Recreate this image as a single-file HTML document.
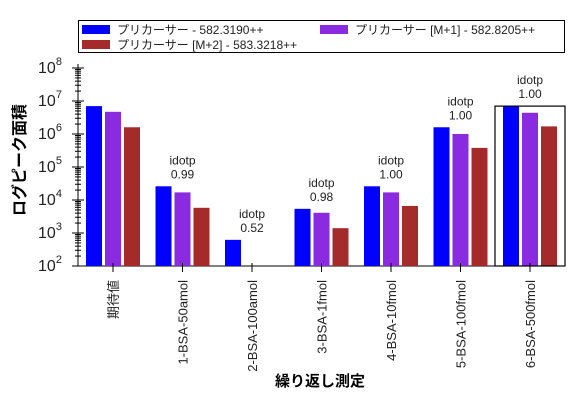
<!DOCTYPE html>
<html><head><meta charset="utf-8"><style>
body{margin:0;background:#fff}
svg{font-family:"Liberation Sans","Noto Sans CJK JP",sans-serif}
</style></head><body>
<svg id="c" width="582" height="400" xmlns="http://www.w3.org/2000/svg"></svg>
<script>
const categories=["期待値","1-BSA-50amol","2-BSA-100amol","3-BSA-1fmol","4-BSA-10fmol","5-BSA-100fmol","6-BSA-500fmol"];
const seriesBlue=[7.0e6,2.6e4,620,5.4e3,2.6e4,1.6e6,7.0e6];
const seriesPurple=[4.7e6,1.7e4,null,4.1e3,1.7e4,1.0e6,4.4e6];
const seriesRed=[1.6e6,5.8e3,null,1.4e3,6.6e3,3.8e5,1.7e6];
const idotp=[null,"0.99","0.52","0.98","1.00","1.00","1.00"];
const yTicks=[2,3,4,5,6,7,8];
const seriesNames=["プリカーサー - 582.3190++","プリカーサー [M+1] - 582.8205++","プリカーサー [M+2] - 583.3218++"];
const colors=["#0000ff","#8a2be2","#a52a2a"];

const svg=document.getElementById('c');
const NS="http://www.w3.org/2000/svg";
function mk(t,a,txt){const e=document.createElementNS(NS,t);for(const k in a)e.setAttribute(k,a[k]);if(txt!=null)e.textContent=txt;svg.appendChild(e);return e;}
const x0=78,x1=565,yTop=68,yBot=266;
const y=v=>yBot-(Math.log10(v)-2)*(yBot-yTop)/6;
const xc=i=>113+i*69.5;

let e=mk('line',{x1:73,y1:yBot,x2:x1,y2:yBot,stroke:'#000','stroke-width':1});

e=mk('line',{x1:x0,y1:yTop-4,x2:x0,y2:yBot,stroke:'#000','stroke-width':1});

yTicks.forEach(p=>{
  const yy=y(Math.pow(10,p));
  e=mk('line',{x1:72,y1:yy,x2:84,y2:yy,stroke:'#000'});
  
  const t=mk('text',{x:50,y:yy+5,'font-size':16,'text-anchor':'middle',fill:'#222'},'10');
  
  const s=document.createElementNS(NS,'tspan');s.setAttribute('dy','-8');s.setAttribute('font-size','11');s.textContent=p;t.appendChild(s);
  if(p<8)for(let m=2;m<10;m++){const ym=y(m*Math.pow(10,p));
    e=mk('line',{x1:75,y1:ym,x2:81,y2:ym,stroke:'#000'});
    }
});
const series=[seriesBlue,seriesPurple,seriesRed];
categories.forEach((c,i)=>{
  series.forEach((s,k)=>{
    if(s[i]==null)return;
    const top=y(s[i]);
    e=mk('rect',{x:xc(i)-27+k*19,y:top,width:16,height:yBot-top,fill:colors[k]});
    
  });
  e=mk('line',{x1:xc(i),y1:yBot-3,x2:xc(i),y2:yBot+6,stroke:'#000'});
  
  e=mk('text',{x:0,y:0,'font-size':13,fill:'#222',transform:`translate(${xc(i)+5},${yBot+14}) rotate(-90)`,'text-anchor':'end'},c);
  
  if(idotp[i]){
    const mx=Math.max(...series.map(s=>s[i]||0));
    const ty=y(mx);
    e=mk('text',{x:xc(i),y:ty-22,'font-size':12,'text-anchor':'middle',fill:'#222'},'idotp');
    
    e=mk('text',{x:xc(i),y:ty-8,'font-size':12,'text-anchor':'middle',fill:'#222'},idotp[i]);
    
  }
});
const hb=y(seriesBlue[6]);
e=mk('rect',{x:xc(6)-35,y:hb,width:x1-(xc(6)-35),height:yBot-hb,fill:'none',stroke:'#000','stroke-width':1.2});

e=mk('rect',{x:78.5,y:20.5,width:486,height:32,fill:'#fff',stroke:'#000'});

const lp=[[82,25],[320,25],[82,40]];
lp.forEach((p,k)=>{
  e=mk('rect',{x:p[0],y:p[1],width:28,height:9,fill:colors[k]});
  
  e=mk('text',{x:p[0]+35,y:p[1]+9,'font-size':12,fill:'#222'},seriesNames[k]);
  
});
e=mk('text',{x:0,y:0,'font-size':16,'font-weight':'bold','text-anchor':'middle',transform:'translate(25,160) rotate(-90)',fill:'#000'},'ログピーク面積');

e=mk('text',{x:320,y:386,'font-size':15,'font-weight':'bold','text-anchor':'middle',fill:'#000'},'繰り返し測定');

</script>
</body></html>
